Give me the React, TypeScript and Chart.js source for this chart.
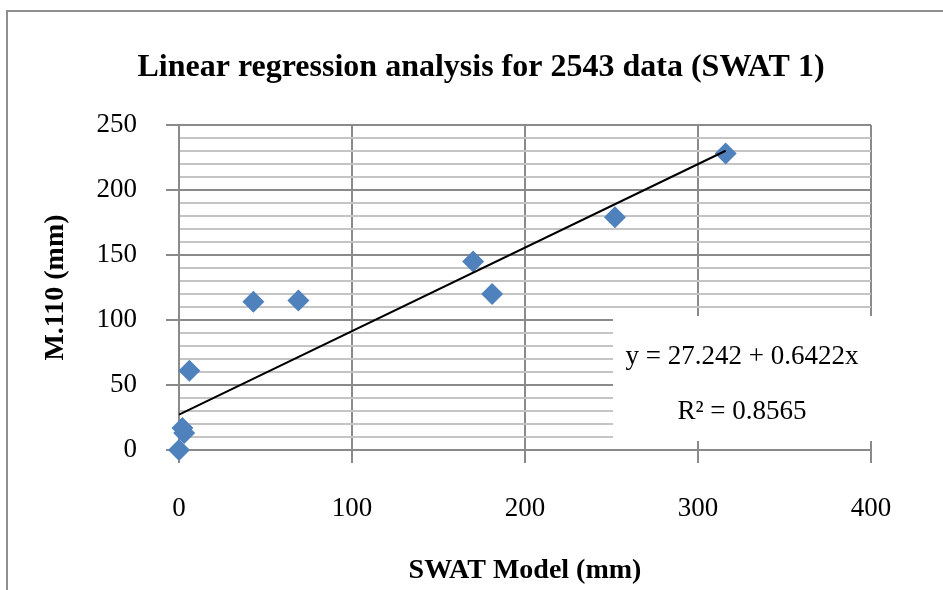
import React, { useEffect, useRef } from "react";
import { Chart, registerables } from "chart.js";

Chart.register(...registerables);

const chartTitle = "Linear regression analysis for 2543 data (SWAT 1)";
const xAxisTitle = "SWAT Model (mm)";
const yAxisTitle = "M.110 (mm)";
const swatModel = [0, 2, 3, 6, 43, 69, 170, 181, 252, 316];
const m110 = [0, 17, 13, 61, 114, 115, 145, 120, 179, 228];
const intercept = 27.242;
const slope = 0.6422;
const equationText = "y = 27.242 + 0.6422x";
const r2Text = "R² = 0.8565";
const xTicks = [0, 100, 200, 300, 400];
const yMajorStep = 50;
const yMinorStep = 10;

const FONT = "'Liberation Serif', 'Times New Roman', serif";
const MAJOR = "#8a8a8a";
const MINOR = "#c4c4c4";

const framePlugin = {
  id: "frame",
  beforeDraw(chart: any) {
    const ctx = chart.ctx;
    ctx.save();
    ctx.strokeStyle = "#8f8f8f";
    ctx.lineWidth = 2;
    ctx.beginPath();
    ctx.moveTo(7, 590);
    ctx.lineTo(7, 11);
    ctx.lineTo(943, 11);
    ctx.stroke();
    ctx.restore();
  },
};

const labelPlugin = {
  id: "eqLabel",
  beforeDatasetsDraw(chart: any) {
    const { ctx, chartArea } = chart;
    ctx.save();
    ctx.fillStyle = "#ffffff";
    const left = chartArea.left + 434;
    const top = chartArea.top + 191;
    ctx.fillRect(left, top, chartArea.right + 6 - left, chartArea.bottom - 9 - top);
    ctx.fillStyle = "#000";
    ctx.font = `27px ${FONT}`;
    ctx.textAlign = "center";
    ctx.textBaseline = "middle";
    ctx.fillText(equationText, chartArea.left + 563, chartArea.top + 232);
    ctx.fillText(r2Text, chartArea.left + 563, chartArea.top + 287);
    ctx.restore();
  },
};

export default function App() {
  const ref = useRef<HTMLCanvasElement | null>(null);
  useEffect(() => {
    if (!ref.current) return;
    const xs = swatModel;
    const xMin = Math.min(...xs);
    const xMax = Math.max(...xs);
    const chart = new Chart(ref.current, {
      type: "scatter",
      data: {
        datasets: [
          {
            label: "Linear trend",
            data: [
              { x: xMin, y: intercept + slope * xMin },
              { x: xMax, y: intercept + slope * xMax },
            ],
            showLine: true,
            borderColor: "#000000",
            borderWidth: 2,
            pointRadius: 0,
            clip: false,
            order: 0,
          } as any,
          {
            label: "M.110",
            data: swatModel.map((x, i) => ({ x, y: m110[i] })),
            pointStyle: "rectRot",
            pointRadius: 11,
            pointHoverRadius: 11,
            pointBackgroundColor: "#4f81bd",
            pointBorderColor: "#4f81bd",
            pointBorderWidth: 0,
            showLine: false,
            clip: false,
            order: 1,
          } as any,
        ],
      },
      options: {
        responsive: false,
        animation: false,
        layout: { padding: { left: 38, right: 19, top: 0, bottom: 0 } },
        plugins: {
          legend: { display: false },
          tooltip: { enabled: false },
          title: {
            display: true,
            text: chartTitle,
            color: "#000",
            font: { family: FONT, size: 32, weight: "bold", lineHeight: 1.2 },
            padding: { top: 49, bottom: 37.6 },
          },
        },
        scales: {
          x: {
            type: "linear",
            min: 0,
            max: 400,
            afterBuildTicks: (s: any) => {
              s.ticks = xTicks.map((v) => ({ value: v }));
            },
            afterFit: (s: any) => {
              s.height = 140;
            },
            grid: { color: MAJOR, lineWidth: 2, tickLength: 13, tickColor: MAJOR, tickWidth: 2 },
            border: { color: MAJOR, width: 2 },
            ticks: {
              color: "#000",
              font: { family: FONT, size: 27 },
              padding: 30,
              maxRotation: 0,
            },
            title: {
              display: true,
              text: xAxisTitle,
              color: "#000",
              font: { family: FONT, size: 28, weight: "bold", lineHeight: 1.2 },
              padding: { top: 0, bottom: 2 },
            },
          },
          y: {
            type: "linear",
            min: 0,
            max: 250,
            afterFit: (s: any) => {
              s.width = 141;
            },
            grid: {
              color: (c: any) => (c.tick && c.tick.value % yMajorStep === 0 ? MAJOR : MINOR),
              lineWidth: 2,
              tickLength: 13,
              tickColor: (c: any) =>
                c.tick && c.tick.value % yMajorStep === 0 ? MAJOR : "rgba(0,0,0,0)",
              tickWidth: 2,
            },
            border: { color: MAJOR, width: 2 },
            ticks: {
              stepSize: yMinorStep,
              autoSkip: false,
              color: "#000",
              font: { family: FONT, size: 27 },
              padding: 29,
              callback: (v: any) => (Number(v) % yMajorStep === 0 ? String(v) : ""),
            },
            title: {
              display: true,
              text: yAxisTitle,
              color: "#000",
              font: { family: FONT, size: 28, weight: "bold", lineHeight: 1.2 },
              padding: { top: 1, bottom: 0 },
            },
          },
          yRight: {
            type: "linear",
            position: "right",
            display: true,
            grid: { display: false, drawOnChartArea: false },
            border: { display: false },
            ticks: { display: false },
            afterFit: (s: any) => {
              s.width = 53;
            },
          },
        },
      },
      plugins: [framePlugin, labelPlugin],
    });
    return () => chart.destroy();
  }, []);
  return (
    <div style={{ position: "absolute", left: 0, top: 0, width: 943, height: 590 }}>
      <canvas ref={ref} width={943} height={590} style={{ display: "block" }} />
    </div>
  );
}
